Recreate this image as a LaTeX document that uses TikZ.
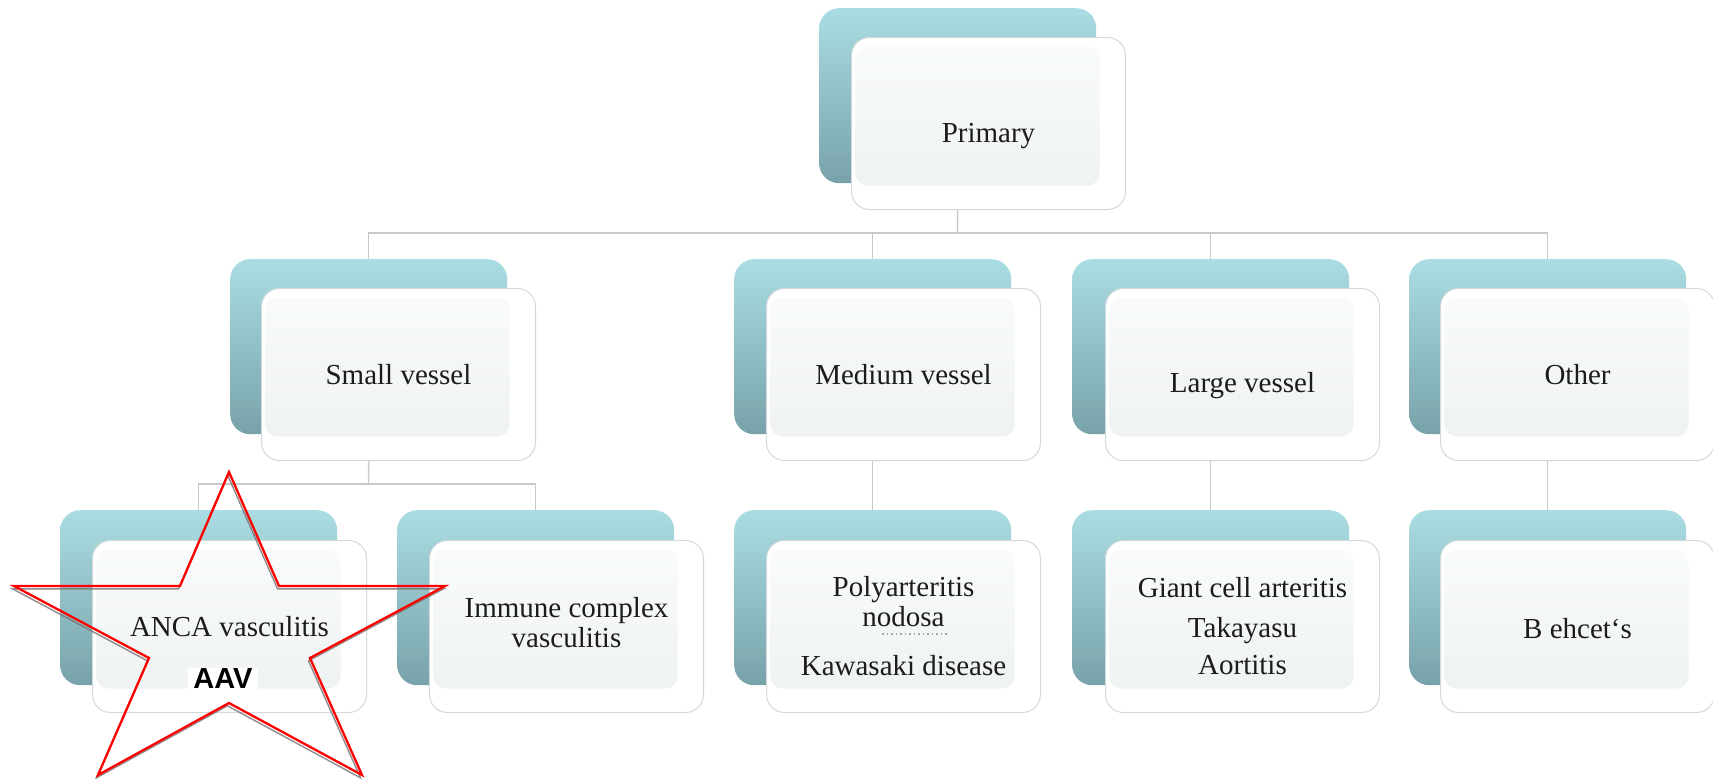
\documentclass[tikz,border=0pt]{standalone}
\usepackage{fontspec}
\setmainfont{Liberation Serif}
\newfontfamily\sansaav{Liberation Sans}
\usetikzlibrary{calc}

\definecolor{backtop}{RGB}{170,221,227}
\definecolor{backbot}{RGB}{120,162,169}
\definecolor{frontline}{RGB}{210,218,220}
\definecolor{innertop}{RGB}{249,251,252}
\definecolor{innerbot}{RGB}{238,241,242}
\definecolor{connline}{RGB}{198,202,204}
\definecolor{txt}{RGB}{28,28,28}
\definecolor{starred}{RGB}{255,0,0}
\definecolor{starshadow}{RGB}{120,110,110}

\tikzset{
  backbox/.style={rectangle, rounded corners=20pt, minimum width=277pt, minimum height=175pt,
    top color=backtop, bottom color=backbot, draw=none, anchor=north west, inner sep=0pt},
  frontbox/.style={rectangle, rounded corners=18pt, minimum width=274pt, minimum height=172pt,
    fill=white, draw=frontline, line width=1pt, anchor=north west, inner sep=0pt,
    font=\fontsize{29}{30}\selectfont, text=txt, align=center,
    path picture={\shade[top color=innertop, bottom color=innerbot, rounded corners=12pt]
      ([shift={(4pt,-9pt)}]path picture bounding box.north west) rectangle
      ([shift={(-26pt,24pt)}]path picture bounding box.south east);}},
  conn/.style={draw=connline, line width=1.4pt},
  starline/.style={draw=starred, line width=2.3pt, line join=miter},
  starshade/.style={draw=starshadow, line width=1.4pt, line join=miter, opacity=0.8},
}

\begin{document}
\begin{tikzpicture}[x=1pt, y=-1pt]
\useasboundingbox (0,0) rectangle (1713,779);
\fill[white] (0,0) rectangle (1713,779);

% top level
\node[backbox] (pB) at (819,8) {};
\node[frontbox] (pF) at (851,37) {\rule{0pt}{45pt}Primary};

% second row
\node[backbox] (smB) at (230,259) {};
\node[frontbox] (smF) at (261,288) {Small vessel};
\node[backbox] (medB) at (734,259) {};
\node[frontbox] (medF) at (766,288) {Medium vessel};
\node[backbox] (lgB) at (1072,259) {};
\node[frontbox] (lgF) at (1105,288) {\rule{0pt}{43pt}Large vessel};
\node[backbox] (otB) at (1409,259) {};
\node[frontbox] (otF) at (1440,288) {Other};

% third row
\node[backbox] (ancaB) at (60,510) {};
\node[frontbox] (ancaF) at (92,540) {ANCA vasculitis};
\node[backbox] (immB) at (397,510) {};
\node[frontbox] (immF) at (429,540) {Immune complex\\vasculitis\rule[-8pt]{0pt}{0pt}};
\node[backbox] (polyB) at (734,510) {};
\node[frontbox] (polyF) at (766,540) {Polyarteritis\\nodosa\\[19pt]Kawasaki disease};
\node[backbox] (gcaB) at (1072,510) {};
\node[frontbox] (gcaF) at (1105,540) {Giant cell arteritis\\[10pt]Takayasu\\[7pt]Aortitis};
\node[backbox] (behB) at (1409,510) {};
\node[frontbox] (behF) at (1440,540) {\rule{0pt}{25pt}B ehcet‘s};

% connectors
\coordinate (barA) at (957.5,233);
\draw[conn] (pF.south -| pB.center) -- (barA);
\draw[conn] (barA) -| (smB.north);
\draw[conn] (barA) -| (medB.north);
\draw[conn] (barA) -| (lgB.north);
\draw[conn] (barA) -| (otB.north);

\coordinate (barB) at (368.5,484);
\draw[conn] (smF.south -| smB.center) -- (barB);
\draw[conn] (barB) -| (ancaB.north);
\draw[conn] (barB) -| (immB.north);

\draw[conn] (medF.south -| medB.center) -- (polyB.north);
\draw[conn] (lgF.south -| lgB.center) -- (gcaB.north);
\draw[conn] (otF.south -| otB.center) -- (behB.north);

% spell-check dots under "nodosa"
\draw[gray!70, line width=1.3pt, dash pattern=on 1.5pt off 3pt] (882,634) -- (948,634);

% star
\draw[starshade, shift={(-1.5,2.8)}] (229,472) -- (279,586) -- (445,586) -- (310,658) -- (362,775)
  -- (229,703) -- (98,775) -- (149,658) -- (14,586) -- (180,586) -- cycle;
\draw[starline] (229,472) -- (279,586) -- (445,586) -- (310,658) -- (362,775)
  -- (229,703) -- (98,775) -- (149,658) -- (14,586) -- (180,586) -- cycle;
\node[fill=white, inner xsep=5pt, inner ysep=1pt, font=\sansaav\bfseries\fontsize{29}{30}\selectfont, text=black] (aav) at (223,679) {AAV};
\end{tikzpicture}
\end{document}
